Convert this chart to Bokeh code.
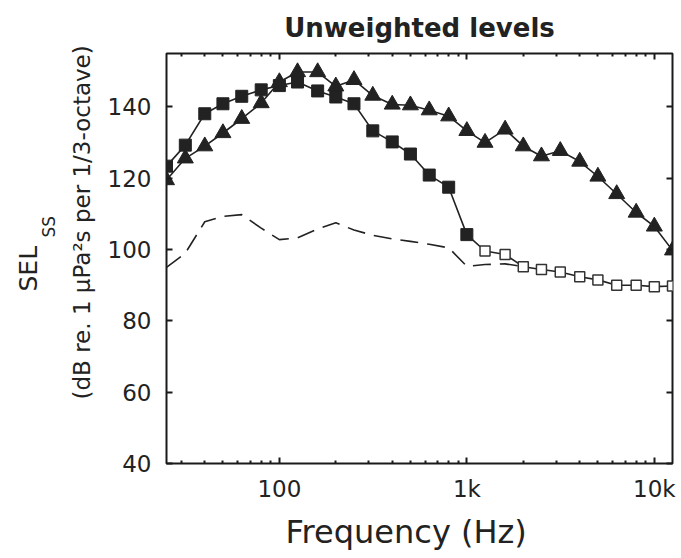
from bokeh.plotting import figure
from bokeh.models import LogAxis, LinearAxis, FixedTicker, Range1d, Title
from bokeh.embed import file_html
from bokeh.resources import INLINE

FONT = "DejaVu Sans"

# third-octave band centre frequencies (Hz)
freq = [25, 31.5, 40, 50, 63, 80, 100, 125, 160, 200, 250, 315, 400, 500,
        630, 800, 1000, 1250, 1600, 2000, 2500, 3150, 4000, 5000, 6300,
        8000, 10000, 12500]

# triangles series (dB)
tri_vals = [119.5, 125.6, 129.0, 132.7, 136.7, 141.1, 147.0, 149.8, 149.8,
            145.8, 147.6, 143.2, 140.7, 140.5, 139.1, 137.4, 133.3, 130.0,
            133.7, 129.0, 126.2, 127.7, 124.7, 120.5, 115.6, 110.4, 106.5, 99.8]

# squares series: filled up to 1 kHz, open above
sq_filled_freq = freq[:17]
sq_filled_vals = [123.4, 129.3, 138.1, 140.9, 143.0, 144.8, 146.0, 147.0,
                  144.5, 142.8, 140.9, 133.3, 130.2, 126.8, 120.9, 117.5, 104.2]
sq_open_freq = freq[17:]
sq_open_vals = [99.6, 98.6, 95.2, 94.4, 93.7, 92.4, 91.5, 90.0, 90.0, 89.6, 89.8]

# dashed (background) line
dash_freq = freq[:20]
dash_vals = [95.0, 99.0, 107.8, 109.3, 109.8, 106.0, 102.8, 103.3, 105.8,
             107.5, 105.5, 104.0, 103.0, 102.3, 101.5, 100.5, 95.3, 95.8,
             96.0, 95.2]

x_major = [100, 1000, 10000]
x_labels = {100: "100", 1000: "1k", 10000: "10k"}
x_minor = [30, 40, 50, 60, 70, 80, 90, 200, 300, 400, 500, 600, 700, 800, 900,
           2000, 3000, 4000, 5000, 6000, 7000, 8000, 9000]
y_ticks = [40, 60, 80, 100, 120, 140]

p = figure(x_axis_type="log", x_range=Range1d(25, 12500), y_range=Range1d(40, 155),
           frame_width=506, frame_height=410,
           min_border_left=166, min_border_top=52, min_border_bottom=96, min_border_right=6,
           output_backend="svg", toolbar_location=None, title="Unweighted levels")

p.background_fill_color = "white"
p.border_fill_color = "white"
p.outline_line_color = "#1a1a1a"
p.outline_line_width = 2
p.xgrid.visible = False
p.ygrid.visible = False

p.title.align = "center"
p.title.text_font = FONT
p.title.text_font_size = "26px"
p.title.text_font_style = "bold"
p.title.text_color = "#222222"
p.title.standoff = 21

xt = FixedTicker(ticks=x_major, minor_ticks=x_minor)
yt = FixedTicker(ticks=y_ticks, minor_ticks=[])

def style_axis(ax, show_labels, ticks):
    ax.axis_line_color = None
    ax.major_tick_in = 6
    ax.major_tick_out = 0
    ax.minor_tick_in = 3
    ax.minor_tick_out = 0
    ax.major_tick_line_color = "#1a1a1a"
    ax.minor_tick_line_color = "#1a1a1a"
    ax.major_tick_line_width = 2
    ax.minor_tick_line_width = 2
    ax.major_label_text_font = FONT
    ax.major_label_text_color = "#222222"
    if show_labels:
        ax.major_label_text_font_size = "23px"
    else:
        ax.major_label_text_font_size = "2px"
        ax.major_label_text_color = None
        ax.major_label_standoff = 0
        ax.major_label_overrides = {t: " " for t in ticks}

xa = p.xaxis[0]
xa.ticker = xt
style_axis(xa, True, x_major)
xa.major_label_overrides = x_labels
xa.major_label_standoff = 12

ya = p.yaxis[0]
ya.ticker = yt
style_axis(ya, True, y_ticks)
ya.major_label_standoff = 15

top = LogAxis(ticker=xt)
style_axis(top, False, x_major)
p.add_layout(top, "above")

right = LinearAxis(ticker=yt)
style_axis(right, False, y_ticks)
p.add_layout(right, "right")

# axis titles (offset from the start of the frame side)
def side_title(text, size, standoff, offset):
    return Title(text=text, text_font=FONT, text_font_size=size, text_font_style="normal",
                 text_color="#222222", align="left", standoff=standoff, offset=offset)

p.add_layout(side_title("Frequency (Hz)", "32px", 12, 119), "below")
p.add_layout(side_title("(dB re. 1 \u03bcPa\u00b2s per 1/3-octave)", "23px", 20, 64), "left")
p.add_layout(side_title("SS", "17px", -5, 226), "left")
p.add_layout(side_title("SEL", "25px", -6, 172), "left")

# data
p.line(dash_freq, dash_vals, line_color="#222222", line_width=1.6, line_dash="18 9")

p.line(freq, sq_filled_vals + sq_open_vals, line_color="#222222", line_width=1.6)
p.scatter(sq_filled_freq, sq_filled_vals, marker="square", size=12,
          fill_color="#222222", line_color="#222222")
p.scatter(sq_open_freq, sq_open_vals, marker="square", size=10,
          fill_color="white", line_color="#333333", line_width=1.5)

p.line(freq, tri_vals, line_color="#222222", line_width=1.6)
p.scatter(freq, tri_vals, marker="triangle", size=16,
          fill_color="#222222", line_color="#222222")

open("out.html", "w").write(file_html(p, INLINE))
